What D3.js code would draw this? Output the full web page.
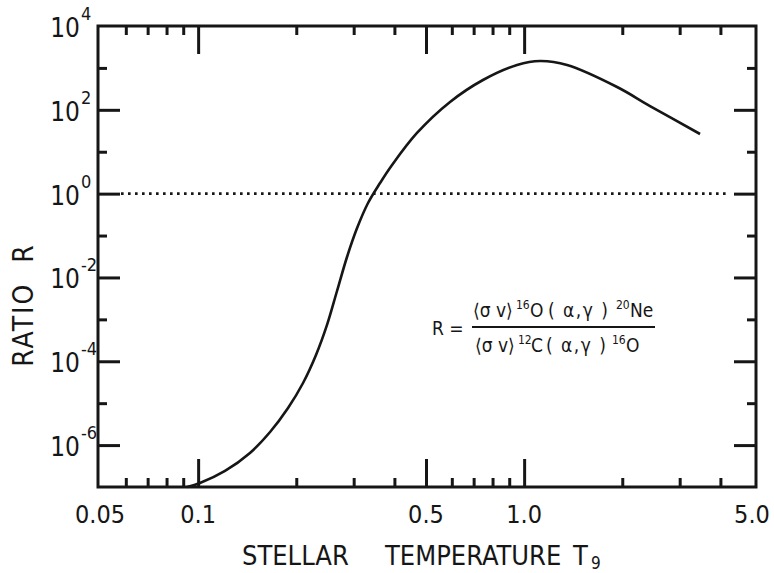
<!DOCTYPE html>
<html>
<head>
<meta charset="utf-8">
<script src="https://cdn.jsdelivr.net/npm/d3@7"></script>
<style>
  body { margin: 0; background: #fff; }
  svg text { font-family: "Liberation Sans Narrow", "DejaVu Sans Condensed", "Roboto", sans-serif; fill: #161616; }
</style>
</head>
<body>
<div id="chart"></div>
<script>
const width = 774
const height = 573

// curve: stellar temperature T9 vs ratio R
const temperature = [0.0925, 0.1013, 0.1209, 0.1442, 0.1662, 0.1887, 0.2098, 0.2299, 0.2485, 0.2667, 0.2862, 0.3073, 0.332, 0.3614, 0.3934, 0.4692, 0.5925, 0.7477, 0.9511, 1.119, 1.354, 1.928, 2.433, 3.464];
const ratio = [1.0e-7, 1.24e-7, 2.41e-7, 6.47e-7, 2.05e-6, 7.67e-6, 3.03e-5, 1.41e-4, 7.35e-4, 4.75e-3, 3.08e-2, 0.151, 0.598, 1.79, 4.82, 28.0, 154, 515, 1172, 1462, 1172, 350, 123, 26.5];

const unityLine = [0.058, 4.2]; // dotted R = 1 line, T9 range
const xMajor = [0.1, 0.5, 1.0];
const xMinor = [0.06, 0.07, 0.08, 0.09, 0.2, 0.3, 0.4, 0.6, 0.7, 0.8, 0.9, 2, 3, 4];
const xLabels = [0.05, 0.1, 0.5, 1.0, 5.0];
const yMajor = [1e-6, 1e-4, 1e-2, 1e0, 1e2];
const yMinor = [1e-5, 1e-3, 1e-1, 1e1, 1e3];
const yLabelExp = [-6, -4, -2, 0, 2, 4];

const frame = {left: 98, right: 756, top: 26, bottom: 487};
const ink = "#161616";

const svg = d3.select('#chart').append('svg').attr('width', width).attr('height', height);

const x = d3.scaleLog().domain([0.05, 5]).range([100, 752]);
const y = d3.scaleLog().domain([1e-7, 1e4]).range([frame.bottom, frame.top]);

// inward ticks on all four sides
function ticks(g) {
  g.select('.domain').remove();
  g.selectAll('line').attr('stroke', ink).attr('stroke-width', 3);
  g.selectAll('text').remove();
}

const bigX = 28, smallX = 9, bigY = 22, smallY = 9;

svg.append('g').attr('transform', 'translate(0,' + frame.bottom + ')')
  .call(d3.axisBottom(x).tickValues(xMajor).tickSize(-bigX)).call(ticks);
svg.append('g').attr('transform', 'translate(0,' + frame.bottom + ')')
  .call(d3.axisBottom(x).tickValues(xMinor).tickSize(-smallX)).call(ticks);
svg.append('g').attr('transform', 'translate(0,' + frame.top + ')')
  .call(d3.axisTop(x).tickValues(xMajor).tickSize(-bigX)).call(ticks);
svg.append('g').attr('transform', 'translate(0,' + frame.top + ')')
  .call(d3.axisTop(x).tickValues(xMinor).tickSize(-smallX)).call(ticks);

svg.append('g').attr('transform', 'translate(' + frame.left + ',0)')
  .call(d3.axisLeft(y).tickValues(yMajor).tickSize(-bigY)).call(ticks);
svg.append('g').attr('transform', 'translate(' + frame.left + ',0)')
  .call(d3.axisLeft(y).tickValues(yMinor).tickSize(-smallY)).call(ticks);
svg.append('g').attr('transform', 'translate(' + frame.right + ',0)')
  .call(d3.axisRight(y).tickValues(yMajor).tickSize(-bigY)).call(ticks);
svg.append('g').attr('transform', 'translate(' + frame.right + ',0)')
  .call(d3.axisRight(y).tickValues(yMinor).tickSize(-smallY)).call(ticks);

// frame
svg.append('rect')
  .attr('x', frame.left).attr('y', frame.top)
  .attr('width', frame.right - frame.left).attr('height', frame.bottom - frame.top)
  .attr('fill', 'none').attr('stroke', ink).attr('stroke-width', 3);

// x tick labels
svg.append('g').selectAll('text')
  .data(xLabels)
  .enter().append('text')
  .attr('x', d => x(d))
  .attr('y', frame.bottom + 36)
  .attr('text-anchor', 'middle')
  .style('font-size', '25px')
  .text(d => d < 0.1 ? '0.05' : d3.format('.1f')(d));

// y tick labels: 10 with exponent
const yl = svg.append('g').selectAll('g')
  .data(yLabelExp)
  .enter().append('g')
  .attr('transform', d => 'translate(' + (frame.left - 18) + ',' + y(Math.pow(10, d)) + ')');
yl.append('text')
  .attr('x', 0).attr('y', 11)
  .attr('text-anchor', 'end')
  .style('font-size', '26px')
  .text('10');
yl.append('text')
  .attr('x', 1).attr('y', -6)
  .style('font-size', '18px')
  .text(d => d < 0 ? '-' + (-d) : d);

// dotted unity line
svg.append('line')
  .attr('x1', x(unityLine[0])).attr('x2', x(unityLine[1]))
  .attr('y1', y(1)).attr('y2', y(1))
  .attr('stroke', ink).attr('stroke-width', 2.6)
  .attr('stroke-dasharray', '2.6,4.4');

// the curve
const line = d3.line()
  .x(d => x(d[0]))
  .y(d => y(d[1]))
  .curve(d3.curveCatmullRom.alpha(0.5));

svg.append('path')
  .datum(d3.zip(temperature, ratio))
  .attr('d', line)
  .attr('fill', 'none')
  .attr('stroke', ink)
  .attr('stroke-width', 2.6);

// axis titles
const xt = svg.append('text').attr('y', 565).style('font-size', '27px');
xt.append('tspan').attr('x', 242).text('STELLAR');
xt.append('tspan').attr('x', 385).text('TEMPERATURE');
xt.append('tspan').attr('x', 573).text('T');
svg.append('text')
  .attr('x', 591).attr('y', 569)
  .style('font-size', '17px')
  .text('9');

svg.append('text')
  .attr('transform', 'translate(33,305) rotate(-90)')
  .attr('text-anchor', 'middle')
  .style('font-size', '28px')
  .style('letter-spacing', '2px')
  .style('white-space', 'pre')
  .text('RATIO  R');

// formula
const fx = 473;
svg.append('text')
  .attr('x', 432).attr('y', 335)
  .style('font-size', '19px')
  .text('R =');

function piece(t, dx, kind, s) {
  t.append('text')
    .attr('x', fx + dx)
    .attr('y', kind === 'sup' ? -8 : 0)
    .style('font-size', kind === 'sup' ? '12px' : '19px')
    .style('letter-spacing', kind === 'wide' ? '1.5px' : null)
    .style('white-space', 'pre')
    .text(s);
}

const num = svg.append('g').attr('transform', 'translate(0,317)');
piece(num, 0, 'plain', '\u27e8\u03c3 v\u27e9');
piece(num, 43, 'sup', '16');
piece(num, 57, 'plain', 'O');
piece(num, 75, 'wide', '( \u03b1,\u03b3 )');
piece(num, 143, 'sup', '20');
piece(num, 157, 'plain', 'Ne');

svg.append('line')
  .attr('x1', fx - 1).attr('x2', fx + 182)
  .attr('y1', 327).attr('y2', 327)
  .attr('stroke', ink).attr('stroke-width', 2);

const den = svg.append('g').attr('transform', 'translate(0,352)');
piece(den, 2, 'plain', '\u27e8\u03c3 v\u27e9');
piece(den, 45, 'sup', '12');
piece(den, 58, 'plain', 'C');
piece(den, 73, 'wide', '( \u03b1,\u03b3 )');
piece(den, 139, 'sup', '16');
piece(den, 153, 'plain', 'O');
</script>
</body>
</html>
